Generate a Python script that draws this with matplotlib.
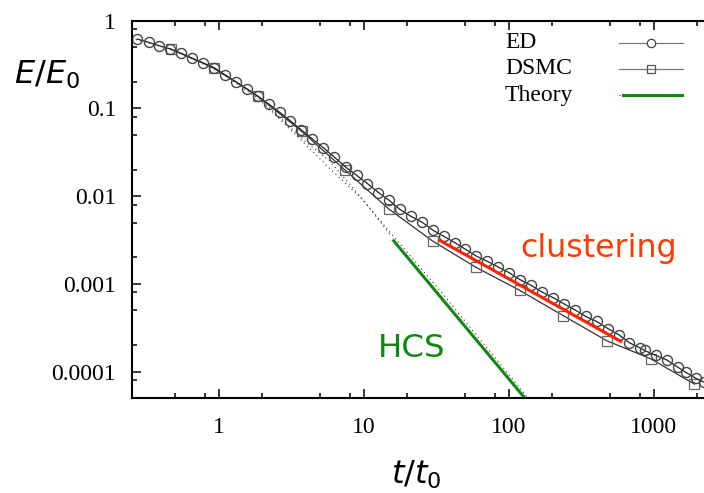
import numpy as np
import matplotlib
matplotlib.use('Agg')
from matplotlib import pyplot as plt
from matplotlib.lines import Line2D
from matplotlib.ticker import LogLocator, FuncFormatter, NullFormatter

# ED (event driven) data
ed_t = [0.274, 0.329, 0.387, 0.459, 0.547, 0.652, 0.780, 0.929, 1.099, 1.309,
        1.560, 1.858, 2.213, 2.636, 3.119, 3.715, 4.426, 5.272, 6.237, 7.482,
        8.913, 10.59, 12.62, 14.93, 17.70, 21.09, 25.12, 30.06, 35.65, 42.46,
        50.23, 59.84, 70.96, 84.33, 100.5, 119.1, 142.6, 169.8, 202.3, 239.3,
        285.1, 338.1, 402.7, 484.2, 574.1, 679.2, 809.1, 863.0, 1033, 1225,
        1466, 1656, 1941, 2213]
ed_E = [0.618, 0.566, 0.519, 0.479, 0.425, 0.375, 0.329, 0.286, 0.240, 0.201,
        0.167, 0.137, 0.112, 0.0899, 0.0721, 0.0565, 0.0447, 0.0355, 0.0280, 0.0215,
        0.0173, 0.0139, 0.0110, 0.00897, 0.00708, 0.00590, 0.00507, 0.00408, 0.00348, 0.00295,
        0.00248, 0.00207, 0.00181, 0.00156, 0.00134, 0.00112, 0.000962, 0.000805, 0.000695, 0.000594,
        0.000507, 0.000426, 0.000373, 0.000308, 0.000263, 0.000213, 0.000185, 0.000174, 0.000153, 0.000136,
        0.000112, 0.0000984, 0.0000841, 0.0000759]

# DSMC data
dsmc_t = [0.465, 0.93, 1.86, 3.72, 7.44, 14.9, 29.8, 59.5, 119, 238, 476, 952, 1905]
dsmc_E = [0.475, 0.291, 0.138, 0.055, 0.0198, 0.00712, 0.00308, 0.00154, 0.000843,
          0.000433, 0.000224, 0.000140, 0.0000720]

# theory curves (dotted)
haff_t = [0.25, 0.5, 1.0, 2.0, 3.98, 5.82, 7.94, 15.8, 33.4, 137]
haff_E = [0.63, 0.457, 0.263, 0.12, 0.0417, 0.0251, 0.0138, 0.00358, 0.000843, 0.0000491]
fit_t = [2.0, 3.16, 5.82, 10.0, 15.5]
fit_E = [0.117, 0.0562, 0.0207, 0.00891, 0.00347]

# HCS and clustering guide lines
hcs_t = [15.8, 130]
hcs_E = [0.0032, 0.0000491]
clu_t = [32.6, 604]
clu_E = [0.0032, 0.000217]

fig = plt.figure(figsize=(7.04, 4.93), dpi=100)
ax = fig.add_axes([131.5 / 704, 95 / 493, 591.5 / 704, 377.3 / 493])
ax.set_xscale('log')
ax.set_yscale('log')
ax.set_xlim(0.25, 3000)
ax.set_ylim(5e-5, 1)

ax.plot(haff_t, haff_E, color='#333333', lw=0.8, ls=(0, (1, 3)))
ax.plot(fit_t, fit_E, color='#333333', lw=0.8, ls=(0, (1, 3)))
ax.plot(dsmc_t, dsmc_E, color='#333333', lw=0.9, marker='s', ms=6.5,
        mfc='none', mec='#666666', mew=0.9)
ax.plot(ed_t, ed_E, color='#222222', lw=0.9, marker='o', ms=7.2,
        mfc='none', mec='#444444', mew=1.0)
ax.plot(hcs_t, hcs_E, color='#118811', lw=2.2, solid_capstyle='butt')
ax.plot(clu_t, clu_E, color='#ff2200', lw=2.2, solid_capstyle='butt')

ax.xaxis.set_major_locator(LogLocator(base=10, numticks=20))
ax.yaxis.set_major_locator(LogLocator(base=10, numticks=20))
ax.xaxis.set_minor_locator(LogLocator(base=10, subs=(2, 5, 8), numticks=20))
ax.yaxis.set_minor_locator(LogLocator(base=10, subs=(2, 5, 8), numticks=20))
fmt = FuncFormatter(lambda v, p: '%g' % v)
ax.xaxis.set_major_formatter(fmt)
ax.yaxis.set_major_formatter(fmt)
ax.xaxis.set_minor_formatter(NullFormatter())
ax.yaxis.set_minor_formatter(NullFormatter())

ax.tick_params(which='both', direction='in', top=True, right=True, width=1.1,
               labelfontfamily='Liberation Serif', labelsize=17)
ax.tick_params(which='major', length=6.5)
ax.tick_params(which='minor', length=3.6)
ax.tick_params(axis='x', pad=14)
ax.tick_params(axis='y', pad=11)
for s in ax.spines.values():
    s.set_linewidth(1.5)

plt.rcParams['mathtext.fontset'] = 'dejavusans'
fig.text(14 / 704, 1 - 84 / 493, r'$E/E_0$', fontsize=23, ha='left', va='baseline')
fig.text(416 / 704, 1 - 484 / 493, r'$t/t_0$', fontsize=23, ha='center', va='baseline')

ax.text(520 / 704, 1 - 257 / 493, 'clustering', transform=fig.transFigure,
        fontsize=22.8, color='#ff3c00', ha='left', va='baseline')
ax.text(378 / 704, 1 - 357 / 493, 'HCS', transform=fig.transFigure,
        fontsize=23.3, color='#118811', ha='left', va='baseline')

# legend drawn by hand: labels left, samples right
labels = ['ED', 'DSMC', 'Theory']
rows = [43, 69, 95]
for lab, y in zip(labels, rows):
    fig.text(505 / 704, 1 - y / 493, lab, fontsize=17, family='Liberation Serif',
             ha='left', va='center')
fy = [1 - y / 493 for y in rows]
fig.add_artist(Line2D([619 / 704, 683 / 704], [fy[0], fy[0]], color='#777777', lw=0.9))
fig.add_artist(Line2D([651 / 704], [fy[0]], marker='o', ms=6, mfc='white', mec='#444444', mew=0.9))
fig.add_artist(Line2D([619 / 704, 683 / 704], [fy[1], fy[1]], color='#777777', lw=0.9))
fig.add_artist(Line2D([651 / 704], [fy[1]], marker='s', ms=6, mfc='none', mec='#555555', mew=0.9))
fig.add_artist(Line2D([619 / 704, 683 / 704], [fy[2], fy[2]], color='#333333', lw=0.8, ls=(0, (1, 3))))
fig.add_artist(Line2D([623 / 704, 682 / 704], [fy[2], fy[2]], color='#118811', lw=2.2))

fig.savefig('out.png', dpi=100)
